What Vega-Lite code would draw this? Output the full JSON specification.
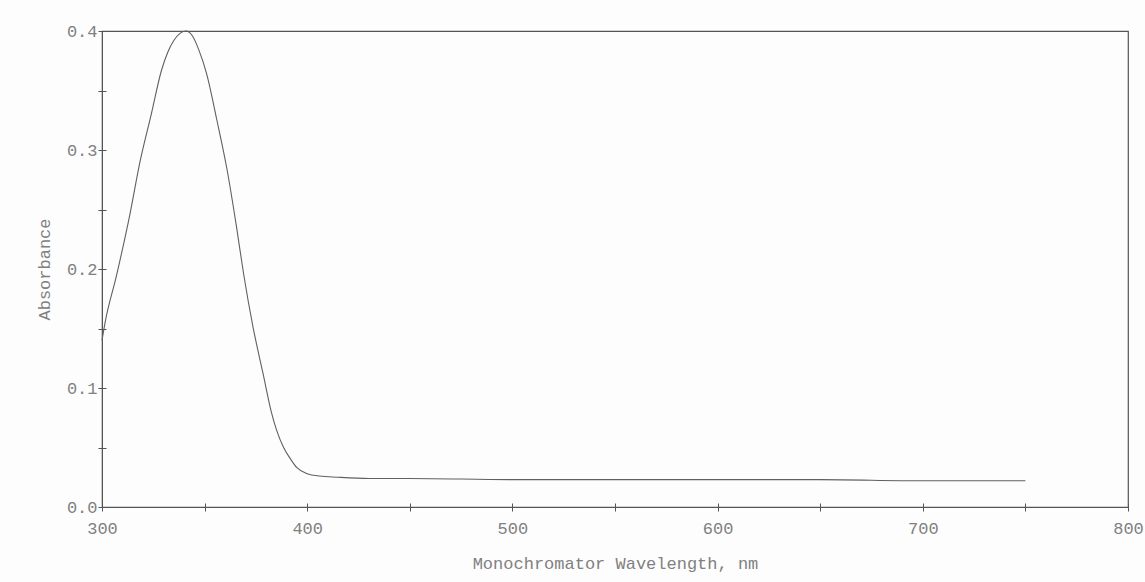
{
  "$schema": "https://vega.github.io/schema/vega-lite/v6.json",
  "width": 1026,
  "height": 476,
  "autosize": "none",
  "padding": {"left": 102, "top": 31, "right": 17, "bottom": 75},
  "background": "#fdfdfd",
  "config": {
    "view": {"stroke": "#555", "strokeWidth": 1.2},
    "font": "Liberation Mono"
  },
  "data": {
    "values": [
      {"wavelength": 300, "absorbance": 0.140},
      {"wavelength": 301.5, "absorbance": 0.155},
      {"wavelength": 307, "absorbance": 0.194},
      {"wavelength": 313.5, "absorbance": 0.245},
      {"wavelength": 318.5, "absorbance": 0.290},
      {"wavelength": 324, "absorbance": 0.330},
      {"wavelength": 329, "absorbance": 0.367},
      {"wavelength": 332, "absorbance": 0.382},
      {"wavelength": 335, "absorbance": 0.392},
      {"wavelength": 338, "absorbance": 0.398},
      {"wavelength": 341, "absorbance": 0.400},
      {"wavelength": 344, "absorbance": 0.396},
      {"wavelength": 347, "absorbance": 0.385},
      {"wavelength": 351, "absorbance": 0.364},
      {"wavelength": 356, "absorbance": 0.325},
      {"wavelength": 361, "absorbance": 0.283},
      {"wavelength": 365.5, "absorbance": 0.236},
      {"wavelength": 369, "absorbance": 0.196},
      {"wavelength": 373.5, "absorbance": 0.152},
      {"wavelength": 378.5, "absorbance": 0.112},
      {"wavelength": 382.5, "absorbance": 0.080},
      {"wavelength": 385, "absorbance": 0.065},
      {"wavelength": 388.5, "absorbance": 0.050},
      {"wavelength": 392, "absorbance": 0.040},
      {"wavelength": 395, "absorbance": 0.033},
      {"wavelength": 400, "absorbance": 0.028},
      {"wavelength": 406, "absorbance": 0.026},
      {"wavelength": 415, "absorbance": 0.025},
      {"wavelength": 430, "absorbance": 0.024},
      {"wavelength": 450, "absorbance": 0.024},
      {"wavelength": 500, "absorbance": 0.023},
      {"wavelength": 550, "absorbance": 0.023},
      {"wavelength": 600, "absorbance": 0.023},
      {"wavelength": 650, "absorbance": 0.023},
      {"wavelength": 700, "absorbance": 0.022},
      {"wavelength": 750, "absorbance": 0.022}
    ]
  },
  "resolve": {"axis": {"x": "independent", "y": "independent"}},
  "layer": [
    {
      "mark": {"type": "line", "color": "#606060", "strokeWidth": 1.1, "interpolate": "monotone"},
      "encoding": {
        "x": {
          "field": "wavelength", "type": "quantitative",
          "scale": {"domain": [300, 800], "nice": false, "zero": false},
          "axis": {
            "orient": "bottom",
            "title": "Monochromator Wavelength, nm",
            "values": [300, 350, 400, 450, 500, 550, 600, 650, 700, 750, 800],
            "labelExpr": "datum.value % 100 == 0 ? datum.label : ''",
            "format": "d",
            "labelFlush": false,
            "grid": false,
            "domainColor": "#555",
            "tickColor": "#555",
            "tickSize": 4,
            "labelPadding": 9,
            "labelFontSize": 17,
            "labelColor": "#808080",
            "labelFont": "Liberation Mono",
            "titleFont": "Liberation Mono",
            "titleFontSize": 17,
            "titleFontWeight": "normal",
            "titleColor": "#808080",
            "titlePadding": 19
          }
        },
        "y": {
          "field": "absorbance", "type": "quantitative",
          "scale": {"domain": [0, 0.4], "nice": false},
          "axis": {
            "orient": "left",
            "title": "Absorbance",
            "values": [0, 0.05, 0.1, 0.15, 0.2, 0.25, 0.3, 0.35, 0.4],
            "format": ".1f",
            "labelExpr": "abs(datum.value * 10 - round(datum.value * 10)) < 0.001 ? datum.label : ''",
            "labelFlush": false,
            "grid": false,
            "domainColor": "#555",
            "tickColor": "#555",
            "tickSize": 4,
            "labelPadding": 1,
            "labelFontSize": 17,
            "labelColor": "#808080",
            "labelFont": "Liberation Mono",
            "titleFont": "Liberation Mono",
            "titleFontSize": 17,
            "titleFontWeight": "normal",
            "titleColor": "#808080",
            "titlePadding": 13
          }
        }
      }
    },
    {
      "mark": {"type": "line", "strokeOpacity": 0},
      "encoding": {
        "x": {
          "field": "wavelength", "type": "quantitative",
          "axis": {
            "orient": "bottom", "title": null, "labels": false, "domain": false, "grid": false,
            "values": [300, 350, 400, 450, 500, 550, 600, 650, 700, 750, 800],
            "tickSize": -4, "tickColor": "#555"
          }
        },
        "y": {
          "field": "absorbance", "type": "quantitative",
          "axis": {
            "orient": "left", "title": null, "labels": false, "domain": false, "grid": false,
            "values": [0, 0.05, 0.1, 0.15, 0.2, 0.25, 0.3, 0.35, 0.4],
            "tickSize": -4, "tickColor": "#555"
          }
        }
      }
    }
  ]
}
